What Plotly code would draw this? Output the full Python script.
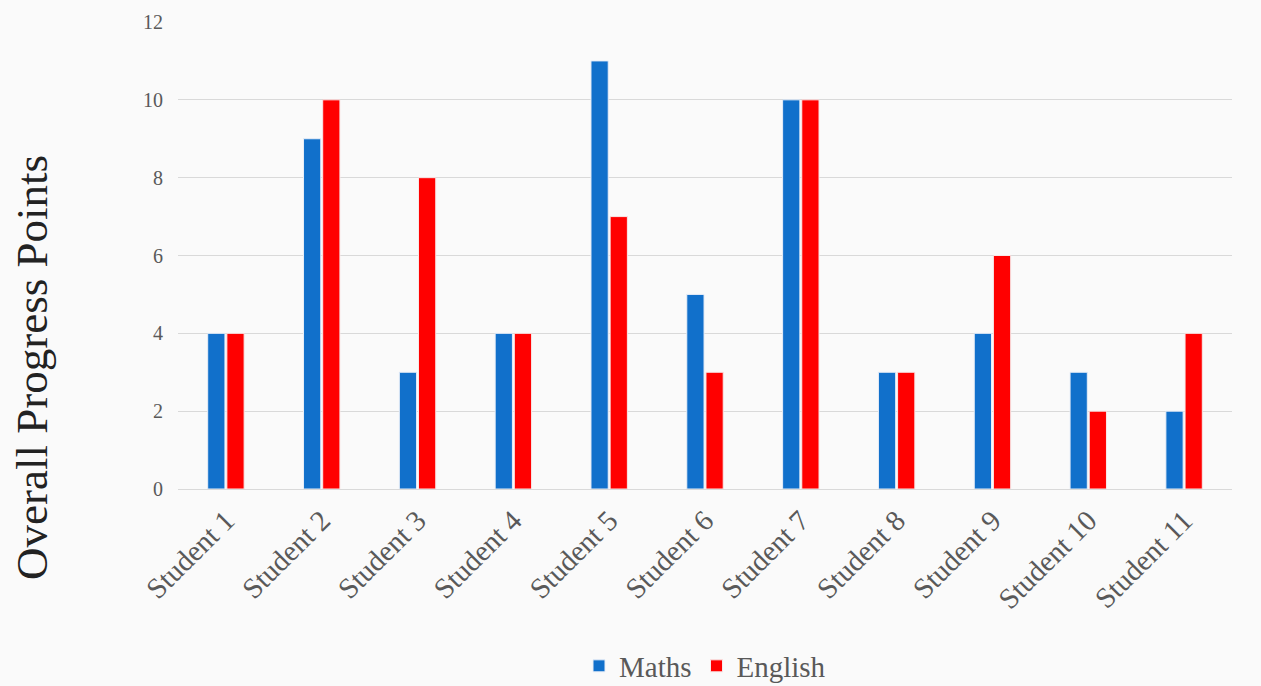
import plotly.graph_objects as go

students = [f"Student {i}" for i in range(1, 12)]
maths = [4, 9, 3, 4, 11, 5, 10, 3, 4, 3, 2]
english = [4, 10, 8, 4, 7, 3, 10, 3, 6, 2, 4]
y_ticks = [0, 2, 4, 6, 8, 10, 12]

FONT = "Liberation Serif"

fig = go.Figure()
fig.add_trace(go.Bar(name="Maths", x=students, y=maths,
                     marker=dict(color="#1170cb", line=dict(color="#e8eef8", width=1))))
fig.add_trace(go.Bar(name="English", x=students, y=english,
                     marker=dict(color="#ff0000", line=dict(color="#f8e8e8", width=1))))

fig.update_layout(
    width=1261, height=686,
    barmode="group", bargap=0.6, bargroupgap=0.1,
    paper_bgcolor="#fafafa", plot_bgcolor="#fafafa",
    margin=dict(l=178, r=29, t=22, b=197, autoexpand=False),
    font=dict(family=FONT, color="#595959"),
    legend=dict(orientation="h", x=0.5, xanchor="center", y=-0.379, yanchor="middle",
                font=dict(size=29, color="#595959"), itemwidth=30),
    yaxis=dict(range=[0, 12], tickvals=y_ticks, showgrid=True, gridcolor="#d9d9d9",
               gridwidth=1, zeroline=False, tickfont=dict(size=20, color="#595959"),
               ticks="", ticklen=0, showline=False, automargin=False,
               ticklabelstandoff=14),
    xaxis=dict(tickangle=-45, tickfont=dict(size=29, color="#595959"), showline=True,
               linecolor="#d9d9d9", linewidth=1, ticks="", automargin=False,
               ticklabelstandoff=2),
    annotations=[dict(text="Overall Progress Points", xref="paper", yref="paper",
                      x=(32 - 178) / 1054, y=(489 - 368) / 467, xanchor="center",
                      yanchor="middle", textangle=-90, showarrow=False,
                      font=dict(size=45, color="#222222", family=FONT))],
)

fig.write_html("out.html")
